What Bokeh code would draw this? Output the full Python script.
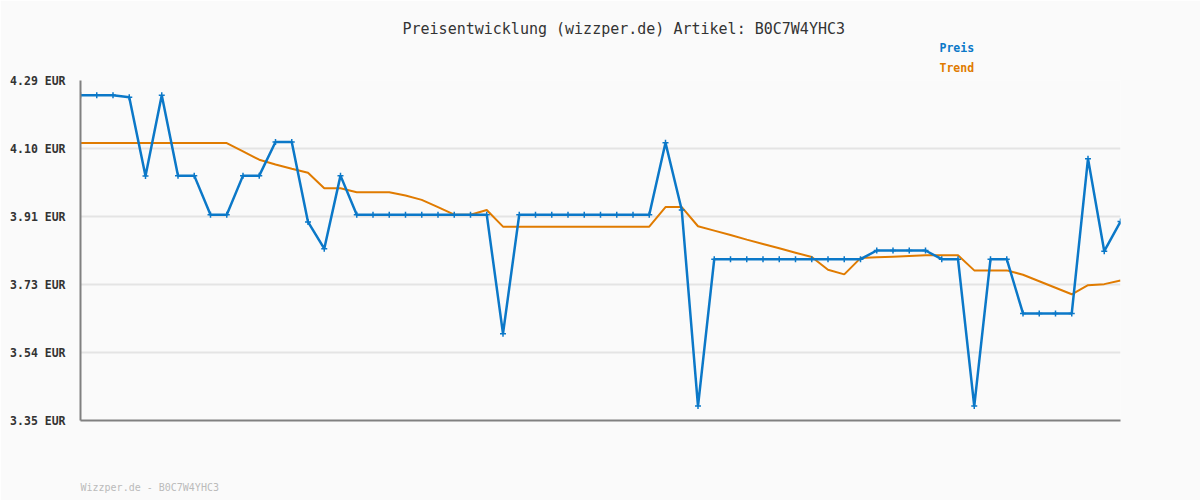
from bokeh.plotting import figure
from bokeh.models import Title, FixedTicker, Range1d
from bokeh.embed import file_html
from bokeh.resources import INLINE

# ---- data ----
preis = [4.249, 4.249, 4.249, 4.244, 4.026, 4.249, 4.027, 4.027, 3.919, 3.919,
         4.027, 4.027, 4.120, 4.120, 3.899, 3.825, 4.027, 3.919, 3.919, 3.919,
         3.919, 3.919, 3.919, 3.919, 3.919, 3.919, 3.590, 3.919, 3.919, 3.919,
         3.919, 3.919, 3.919, 3.919, 3.919, 3.919, 4.118, 3.932, 3.390, 3.796,
         3.796, 3.796, 3.796, 3.796, 3.796, 3.796, 3.796, 3.796, 3.796, 3.820,
         3.820, 3.820, 3.820, 3.796, 3.796, 3.390, 3.796, 3.796, 3.646, 3.646,
         3.646, 3.646, 4.074, 3.818, 3.900]
trend = [4.117, 4.117, 4.117, 4.117, 4.117, 4.117, 4.117, 4.117, 4.117, 4.117,
         4.094, 4.071, 4.058, 4.046, 4.035, 3.992, 3.992, 3.981, 3.981, 3.981,
         3.972, 3.960, 3.940, 3.919, 3.919, 3.932, 3.886, 3.886, 3.886, 3.886,
         3.886, 3.886, 3.886, 3.886, 3.886, 3.886, 3.940, 3.940, 3.887, 3.875,
         3.863, 3.850, 3.838, 3.826, 3.814, 3.802, 3.767, 3.754, 3.799, 3.801,
         3.803, 3.805, 3.807, 3.807, 3.807, 3.765, 3.765, 3.765, 3.753, 3.735,
         3.717, 3.699, 3.724, 3.727, 3.737]
idx = list(range(len(preis)))
y_ticks = [3.35, 3.538, 3.726, 3.914, 4.102, 4.29]
y_tick_labels = ["3.35 EUR", "3.54 EUR", "3.73 EUR", "3.91 EUR", "4.10 EUR", "4.29 EUR"]
title_text = "Preisentwicklung (wizzper.de) Artikel: B0C7W4YHC3"
legend_labels = ["Preis", "Trend"]
footer_text = "Wizzper.de - B0C7W4YHC3"

BLUE = "#0b78c8"
ORANGE = "#e07b00"
BG = "#fafafa"
MONO = "DejaVu Sans Mono"
FRAME_W = 1040
FOOTER_PX = 10

p = figure(frame_width=FRAME_W, frame_height=340, output_backend="svg", toolbar_location=None,
           x_range=Range1d(0, len(preis) - 1), y_range=Range1d(y_ticks[0], y_ticks[-1]),
           min_border_left=80, min_border_right=80, min_border_top=80, min_border_bottom=80)
p.background_fill_color = BG
p.border_fill_color = BG
p.outline_line_color = None

p.xgrid.visible = False
p.ygrid.grid_line_color = "#e4e4e4"
p.ygrid.grid_line_width = 2

p.yaxis.ticker = FixedTicker(ticks=y_ticks)
p.yaxis.major_label_overrides = {t: l for t, l in zip(y_ticks, y_tick_labels)}
p.yaxis.major_label_text_font = MONO
p.yaxis.major_label_text_font_style = "bold"
p.yaxis.major_label_text_font_size = "11.5px"
p.yaxis.major_label_text_color = "#333333"
p.yaxis.major_label_standoff = 9
p.yaxis.major_tick_line_color = None
p.yaxis.minor_tick_line_color = None
p.yaxis.axis_line_color = "#808080"
p.yaxis.axis_line_width = 2

# bottom axis: line only; one label (the footer), left-aligned with the frame start
half_text_px = len(footer_text) * 0.602 * FOOTER_PX / 2
footer_tick = round(half_text_px / (FRAME_W / (len(idx) - 1)), 2)
p.xaxis.ticker = FixedTicker(ticks=[footer_tick])
p.xaxis.major_label_overrides = {footer_tick: footer_text}
p.xaxis.major_tick_line_color = None
p.xaxis.major_tick_in = 0
p.xaxis.major_tick_out = 0
p.xaxis.minor_tick_line_color = None
p.xaxis.axis_line_color = "#808080"
p.xaxis.axis_line_width = 2
p.xaxis.major_label_standoff = 61
p.xaxis.major_label_text_font = MONO
p.xaxis.major_label_text_font_size = f"{FOOTER_PX}px"
p.xaxis.major_label_text_font_style = "normal"
p.xaxis.major_label_text_color = "#bbbbbb"

p.line(idx, trend, line_color=ORANGE, line_width=2)
p.line(idx, preis, line_color=BLUE, line_width=2.5)
p.scatter(idx, preis, marker="cross", size=6, line_color=BLUE, line_width=1.5)

# legend entries as title rows (first added = closest to frame)
p.add_layout(Title(text=legend_labels[1], align="left", offset=859, vertical_align="middle",
                   text_font=MONO, text_font_size="11.5px", text_font_style="bold",
                   text_color=ORANGE, standoff=9), "above")
p.add_layout(Title(text=legend_labels[0], align="left", offset=859, vertical_align="middle",
                   text_font=MONO, text_font_size="11.5px", text_font_style="bold",
                   text_color=BLUE, standoff=0), "above")
p.title.text = title_text
p.title.align = "left"
p.title.offset = 322
p.title.vertical_align = "middle"
p.title.text_font = MONO
p.title.text_font_size = "15px"
p.title.text_font_style = "normal"
p.title.text_color = "#333333"
p.title.standoff = 2

open("out.html", "w").write(file_html(p, INLINE))
